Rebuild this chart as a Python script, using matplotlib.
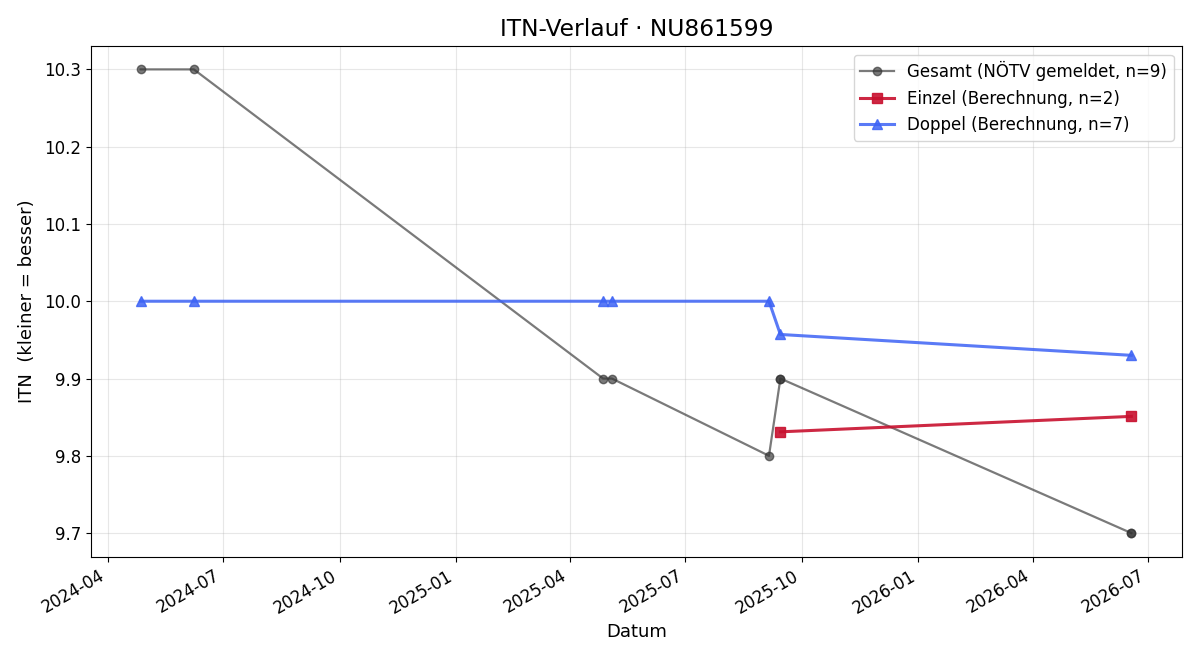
import matplotlib
matplotlib.use("Agg")
import matplotlib.pyplot as plt
import matplotlib.dates as mdates
import pandas as pd

# Gesamt (NÖTV gemeldet), 9 entries (two pairs share a date)
gesamt_dates = ["2024-04-27", "2024-06-08", "2025-04-27", "2025-05-04",
                "2025-09-05", "2025-09-14", "2025-09-14", "2026-06-18", "2026-06-18"]
gesamt_itn = [10.3, 10.3, 9.9, 9.9, 9.8, 9.9, 9.9, 9.7, 9.7]

einzel_dates = ["2025-09-14", "2026-06-18"]
einzel_itn = [9.831, 9.851]

doppel_dates = ["2024-04-27", "2024-06-08", "2025-04-27", "2025-05-04",
                "2025-09-05", "2025-09-14", "2026-06-18"]
doppel_itn = [10.0, 10.0, 10.0, 10.0, 10.0, 9.957, 9.93]

player_id = "NU861599"

fig, ax = plt.subplots(figsize=(12, 6.6), dpi=100)

ax.plot(pd.to_datetime(gesamt_dates), gesamt_itn, color="#333333", alpha=0.65,
        marker="o", markersize=6, linewidth=1.6,
        label=f"Gesamt (NÖTV gemeldet, n={len(gesamt_itn)})")
ax.plot(pd.to_datetime(einzel_dates), einzel_itn, color="#c8102e", alpha=0.9,
        marker="s", markersize=7, linewidth=2.2,
        label=f"Einzel (Berechnung, n={len(einzel_itn)})")
ax.plot(pd.to_datetime(doppel_dates), doppel_itn, color="#3d63f5", alpha=0.85,
        marker="^", markersize=7, linewidth=2.2,
        label=f"Doppel (Berechnung, n={len(doppel_itn)})")

ax.xaxis.set_major_locator(mdates.MonthLocator(bymonth=[1, 4, 7, 10]))
ax.xaxis.set_major_formatter(mdates.DateFormatter("%Y-%m"))
ax.set_xlim(pd.Timestamp("2024-03-19"), pd.Timestamp("2026-07-28"))
ax.set_ylim(9.669, 10.33)

ax.grid(True, alpha=0.3)
ax.set_title(f"ITN-Verlauf · {player_id}", fontsize=16.8, pad=7)
ax.set_xlabel("Datum", fontsize=13)
ax.set_ylabel("ITN  (kleiner = besser)", fontsize=13, labelpad=6)
ax.tick_params(labelsize=12)
ax.legend(loc="upper right", fontsize=12)

fig.autofmt_xdate()
fig.subplots_adjust(left=0.076, right=0.985, top=0.930, bottom=0.156)
fig.savefig("out.png", dpi=100)
